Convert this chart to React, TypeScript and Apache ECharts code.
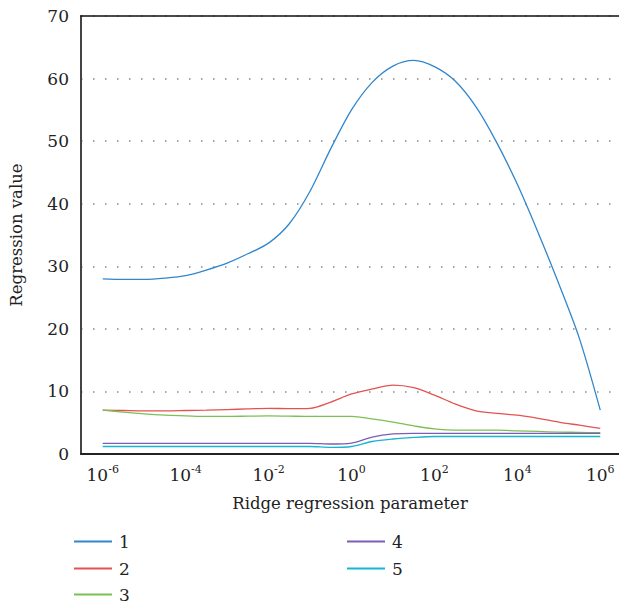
import React, { useEffect, useRef } from "react";
import * as echarts from "echarts";

const logLambda = [-6, -5.5, -5, -4.5, -4, -3.5, -3, -2.5, -2, -1.5, -1, -0.5, 0, 0.5, 1, 1.5, 2, 2.5, 3, 3.5, 4, 4.5, 5, 5.5, 6];
const seriesNames = ["1", "2", "3", "4", "5"];
const s1 = [28.0, 27.9, 27.9, 28.1, 28.5, 29.4, 30.5, 32.0, 33.7, 36.8, 42.0, 48.8, 55.0, 59.4, 62.0, 62.9, 61.9, 59.6, 55.5, 49.8, 43.1, 35.4, 27.2, 18.4, 7.0];
const s2 = [7.0, 6.95, 6.9, 6.9, 6.95, 7.0, 7.1, 7.2, 7.3, 7.25, 7.3, 8.3, 9.6, 10.4, 11.0, 10.6, 9.4, 8.0, 6.9, 6.5, 6.2, 5.7, 5.1, 4.6, 4.1];
const s3 = [7.0, 6.7, 6.4, 6.2, 6.1, 6.0, 6.0, 6.05, 6.1, 6.05, 6.0, 6.0, 6.0, 5.6, 5.1, 4.5, 4.0, 3.8, 3.8, 3.8, 3.7, 3.6, 3.5, 3.45, 3.4];
const s4 = [1.7, 1.7, 1.7, 1.7, 1.7, 1.7, 1.7, 1.7, 1.7, 1.7, 1.7, 1.6, 1.75, 2.7, 3.2, 3.3, 3.3, 3.3, 3.3, 3.3, 3.3, 3.3, 3.3, 3.3, 3.3];
const s5 = [1.2, 1.2, 1.2, 1.2, 1.2, 1.2, 1.2, 1.2, 1.2, 1.2, 1.2, 1.05, 1.2, 2.0, 2.4, 2.65, 2.8, 2.8, 2.8, 2.8, 2.8, 2.8, 2.8, 2.8, 2.8];
const xTickExponents = [-6, -4, -2, 0, 2, 4, 6];
const colors = ["#3186cc", "#e45252", "#7dbf55", "#7d5cb4", "#16b6d0"];

const FONT = "'DejaVu Serif', 'Liberation Serif', serif";
const FS = 17;

// legend placement per item: [left, centerY]
const legendSlots: [number, number][] = [
  [74, 541],
  [74, 568],
  [74, 594],
  [347, 541],
  [347, 568],
];

export default function App() {
  const ref = useRef<HTMLDivElement>(null);
  useEffect(() => {
    if (!ref.current) return;
    const chart = echarts.init(ref.current, null, { renderer: "svg" });
    const all = [s1, s2, s3, s4, s5];
    chart.setOption({
      animation: false,
      textStyle: { fontFamily: FONT },
      grid: { left: 74, right: 0, top: 16, bottom: 150, containLabel: false },
      legend: seriesNames.map((name, i) => ({
        data: [name],
        left: legendSlots[i][0],
        top: legendSlots[i][1] - 8,
        icon: "rect",
        itemWidth: 38,
        itemHeight: 2,
        padding: 0,
        textStyle: { fontSize: FS, lineHeight: 16, color: "#222", fontFamily: FONT, padding: [0, 0, 0, 2] },
      })),
      xAxis: [
        {
          type: "value",
          min: -6.524,
          max: 6.452,
          name: "Ridge regression parameter",
          nameLocation: "middle",
          nameGap: 41,
          nameTextStyle: { fontSize: 16.5, color: "#222", fontFamily: FONT },
          axisLine: { show: true, onZero: false, lineStyle: { color: "#222", width: 2 } },
          axisTick: { show: false },
          splitLine: { show: false },
          axisLabel: {
            customValues: xTickExponents,
            margin: 10,
            color: "#222",
            formatter: (v: number) => `{b|10}{s|${v}}`,
            rich: {
              b: { fontSize: FS, lineHeight: 22, fontFamily: FONT, color: "#222" },
              s: { fontSize: 11, lineHeight: 12, verticalAlign: "top", fontFamily: FONT, color: "#222" },
            },
          },
        },
        {
          type: "value",
          position: "top",
          min: -6.524,
          max: 6.452,
          axisLine: { show: true, onZero: false, lineStyle: { color: "#111", width: 1.5 } },
          axisTick: { show: false },
          axisLabel: { show: false },
          splitLine: { show: false },
        },
      ],
      yAxis: {
        type: "value",
        min: 0,
        max: 70,
        interval: 10,
        name: "Regression value",
        nameLocation: "middle",
        nameGap: 56,
        nameTextStyle: { fontSize: 16.5, color: "#222", fontFamily: FONT },
        axisLine: { show: true, onZero: false, lineStyle: { color: "#444", width: 2 } },
        axisTick: { show: false },
        axisLabel: { fontSize: FS, color: "#222", margin: 12, fontFamily: FONT },
        splitLine: {
          show: true,
          lineStyle: { color: "#888", width: 1.5, type: [1.5, 10.5], dashOffset: -12 },
        },
      },
      series: seriesNames.map((name, i) => ({
        name,
        type: "line",
        smooth: 0.3,
        symbol: "none",
        showSymbol: false,
        color: colors[i],
        lineStyle: { width: 1.3, color: colors[i] },
        data: logLambda.map((x, j) => [x, all[i][j]]),
      })),
    });
    return () => chart.dispose();
  }, []);
  return (
    <div
      ref={ref}
      style={{ position: "fixed", left: 0, top: 0, width: 619, height: 604, background: "#fff" }}
    />
  );
}
